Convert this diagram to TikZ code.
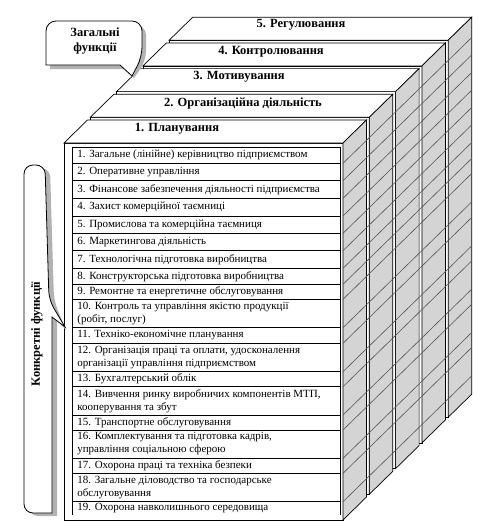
\documentclass[tikz,border=0pt]{standalone}
\usepackage{fontspec}
\setmainfont{Liberation Serif}
\definecolor{sidegray}{RGB}{212,212,212}
\definecolor{hatchgray}{RGB}{85,85,85}

\begin{document}
\begin{tikzpicture}[x=1pt,y=-1pt,line width=0.7pt,
  face/.style={draw,fill=white},
  sideface/.style={draw,fill=sidegray},
  hatch/.style={draw=hatchgray,line width=0.6pt},
  shade/.style={fill=black!30,draw=none},
  bubble/.style={draw,fill=white,line width=0.8pt},
  head/.style={font=\bfseries\fontsize{12.5}{15}\selectfont,inner sep=0},
  row/.style={font=\fontsize{11}{13}\selectfont,anchor=west,align=left,inner sep=0}]

\useasboundingbox (0,0) rectangle (499,525);

% slabs, back to front
\path[face] (169.2,40.2) rectangle ++(279,377);
\path[face] (169.2,40.2) -- ++(279,0) -- ++(23.5,-23) -- ++(-279,0) -- cycle;
\path[sideface] (448.2,40.2) -- ++(23.5,-23) -- ++(0,377) -- ++(-23.5,23) -- cycle;

\path[face] (142.9,65.9) rectangle ++(279,377);
\path[face] (142.9,65.9) -- ++(279,0) -- ++(23.5,-23) -- ++(-279,0) -- cycle;
\path[sideface] (421.9,65.9) -- ++(23.5,-23) -- ++(0,377) -- ++(-23.5,23) -- cycle;

\path[face] (116.6,91.6) rectangle ++(279,377);
\path[face] (116.6,91.6) -- ++(279,0) -- ++(23.5,-23) -- ++(-279,0) -- cycle;
\path[sideface] (395.6,91.6) -- ++(23.5,-23) -- ++(0,377) -- ++(-23.5,23) -- cycle;

\path[face] (90.3,117.3) rectangle ++(279,377);
\path[face] (90.3,117.3) -- ++(279,0) -- ++(23.5,-23) -- ++(-279,0) -- cycle;
\path[sideface] (369.3,117.3) -- ++(23.5,-23) -- ++(0,377) -- ++(-23.5,23) -- cycle;

\path[face] (64,143) rectangle ++(279,377);
\path[face] (64,143) -- ++(279,0) -- ++(23.5,-23) -- ++(-279,0) -- cycle;
\path[sideface] (343,143) -- ++(23.5,-23) -- ++(0,377) -- ++(-23.5,23) -- cycle;

% concrete functions run through all slabs
\draw[hatch] (343,163.3) -- ++(128.7,-125.8) (343,180.7) -- ++(128.7,-125.8)
  (343,198.3) -- ++(128.7,-125.8) (343,216) -- ++(128.7,-125.8)
  (343,233.3) -- ++(128.7,-125.8) (343,250.7) -- ++(128.7,-125.8)
  (343,268.3) -- ++(128.7,-125.8) (343,284.3) -- ++(128.7,-125.8)
  (343,299.3) -- ++(128.7,-125.8) (343,327.7) -- ++(128.7,-125.8)
  (343,343.3) -- ++(128.7,-125.8) (343,371.7) -- ++(128.7,-125.8)
  (343,386.7) -- ++(128.7,-125.8) (343,415) -- ++(128.7,-125.8)
  (343,430) -- ++(128.7,-125.8) (343,458.3) -- ++(128.7,-125.8)
  (343,473.3) -- ++(128.7,-125.8) (343,501.7) -- ++(128.7,-125.8);

% table on the front face
\draw (72.7,515) -- (72.7,147.3) -- (340,147.3) -- (340,515);
\draw (72.7,163.3) -- +(267.3,0) (72.7,180.7) -- +(267.3,0)
  (72.7,198.3) -- +(267.3,0) (72.7,216) -- +(267.3,0)
  (72.7,233.3) -- +(267.3,0) (72.7,250.7) -- +(267.3,0)
  (72.7,268.3) -- +(267.3,0) (72.7,284.3) -- +(267.3,0)
  (72.7,299.3) -- +(267.3,0) (72.7,327.7) -- +(267.3,0)
  (72.7,343.3) -- +(267.3,0) (72.7,371.7) -- +(267.3,0)
  (72.7,386.7) -- +(267.3,0) (72.7,415) -- +(267.3,0)
  (72.7,430) -- +(267.3,0) (72.7,458.3) -- +(267.3,0)
  (72.7,473.3) -- +(267.3,0) (72.7,501.7) -- +(267.3,0);

\node[head] (h1) at (177,129) {1. Планування};
\node[head] (h2) at (243,103) {2. Організаційна діяльність};
\node[head] (h3) at (239,77) {3. Мотивування};
\node[head] (h4) at (271,52) {4. Контролювання};
\node[head] (h5) at (301,25) {5. Регулювання};

\node[row] (f1) at (77,155.3) {1. Загальне (лінійне) керівництво підприємством};
\node[row] (f2) at (77,172) {2. Оперативне управління};
\node[row] (f3) at (77,189.5) {3. Фінансове забезпечення діяльності підприємства};
\node[row] (f4) at (77,207.2) {4. Захист комерційної таємниці};
\node[row] (f5) at (77,224.7) {5. Промислова та комерційна таємниця};
\node[row] (f6) at (77,242) {6. Маркетингова діяльність};
\node[row] (f7) at (77,259.5) {7. Технологічна підготовка виробництва};
\node[row] (f8) at (77,276.3) {8. Конструкторська підготовка виробництва};
\node[row] (f9) at (77,292) {9. Ремонтне та енергетичне обслуговування};
\node[row] (f10) at (77,313.5) {10. Контроль та управління якістю продукції\\(робіт, послуг)};
\node[row] (f11) at (77,335.5) {11. Техніко-економічне планування};
\node[row] (f12) at (77,357.5) {12. Організація праці та оплати, удосконалення\\організації управління підприємством};
\node[row] (f13) at (77,379) {13. Бухгалтерський облік};
\node[row] (f14) at (77,401) {14. Вивчення ринку виробничих компонентів МТП,\\кооперування та збут};
\node[row] (f15) at (77,422.5) {15. Транспортне обслуговування};
\node[row] (f16) at (77,444) {16. Комплектування та підготовка кадрів,\\управління соціальною сферою};
\node[row] (f17) at (77,466) {17. Охорона праці та техніка безпеки};
\node[row] (f18) at (77,487.5) {18. Загальне діловодство та господарське\\обслуговування};
\node[row] (f19) at (77,508.5) {19. Охорона навколишнього середовища};

% callouts
\fill[shade] (50,44) [rounded corners=10] -- (50,25) -- (146,25) -- (146,61) [sharp corners] -- (134,78) -- (124,69) -- (50,69) [rounded corners=10] -- cycle;
\path[bubble] (46,40) [rounded corners=10] -- (46,21) -- (142,21) -- (142,57) [sharp corners] -- (132,76) -- (120,65) -- (46,65) [rounded corners=10] -- cycle;
\node[head,align=center,font=\bfseries\fontsize{12.5}{15.5}\selectfont] (gf) at (95,41) {Загальні\\функції};

\fill[shade] (29,400) [rounded corners=9] -- (29,168) -- (50,168) -- (54,301) [sharp corners] -- (66,330) -- (57,320) -- (57,516) [rounded corners=9] -- (29,516) -- cycle;
\path[bubble] (24,400) [rounded corners=9] -- (24,165) -- (45,165) -- (49,300) [sharp corners] -- (65,327) -- (52,317) -- (52,513) [rounded corners=9] -- (24,513) -- cycle;
\node[head,rotate=90] (cf) at (37,334) {Конкретні функції};

\end{tikzpicture}
\end{document}
